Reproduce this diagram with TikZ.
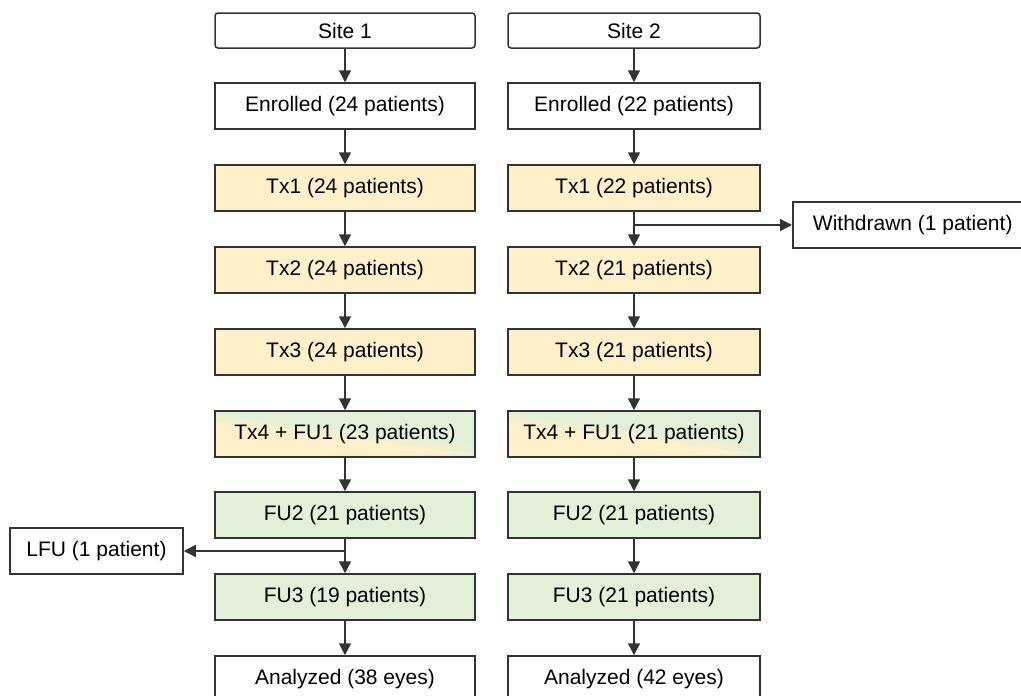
\documentclass[tikz,border=0pt]{standalone}
\usepackage{fontspec}
\setmainfont{Liberation Sans}
\usetikzlibrary{arrows.meta}
\definecolor{txy}{HTML}{FEF0C9}
\definecolor{fug}{HTML}{E2EFD9}
\definecolor{mixc}{HTML}{F0F0D1}
\definecolor{ln}{HTML}{333333}
\begin{document}
\begin{tikzpicture}[x=1pt,y=-1pt,
 box/.style={draw=ln, line width=1.5pt, fill=white, minimum height=46pt, inner sep=0pt,
   font=\fontsize{21}{25}\selectfont, text=black},
 lcol/.style={box, minimum width=260pt},
 rcol/.style={box, minimum width=252pt},
 site/.style={rounded corners=3pt, minimum height=35pt},
 tx/.style={fill=txy},
 fu/.style={fill=fug},
 mix/.style={fill=fug, path picture={
   \fill[mixc] ([yshift=-4pt]path picture bounding box.north west) -- ([yshift=9pt]path picture bounding box.south east) -- (path picture bounding box.south west) -- cycle;
   \fill[txy] ([yshift=-10pt]path picture bounding box.north west) -- ([yshift=3pt]path picture bounding box.south east) -- (path picture bounding box.south west) -- cycle;}},
 arr/.style={draw=ln, line width=1.5pt, -{Triangle[length=12pt,width=12pt]}}]
\useasboundingbox (0,0) rectangle (1021,696);
% left column
\node[lcol,site] (s1) at (345,30.5) {Site 1};
\node[lcol] (e1) at (345,106) {Enrolled (24 patients)};
\node[lcol,tx] (t11) at (345,188) {Tx1 (24 patients)};
\node[lcol,tx] (t12) at (345,270) {Tx2 (24 patients)};
\node[lcol,tx] (t13) at (345,352) {Tx3 (24 patients)};
\node[lcol,mix] (t14) at (345,434) {Tx4 + FU1 (23 patients)};
\node[lcol,fu] (f12) at (345,515) {FU2 (21 patients)};
\node[lcol,fu] (f13) at (345,597) {FU3 (19 patients)};
\node[lcol] (a1) at (345,679) {Analyzed (38 eyes)};
% right column
\node[rcol,site] (s2) at (634,30.5) {Site 2};
\node[rcol] (e2) at (634,106) {Enrolled (22 patients)};
\node[rcol,tx] (t21) at (634,188) {Tx1 (22 patients)};
\node[rcol,tx] (t22) at (634,270) {Tx2 (21 patients)};
\node[rcol,tx] (t23) at (634,352) {Tx3 (21 patients)};
\node[rcol,mix] (t24) at (634,434) {Tx4 + FU1 (21 patients)};
\node[rcol,fu] (f22) at (634,515) {FU2 (21 patients)};
\node[rcol,fu] (f23) at (634,597) {FU3 (21 patients)};
\node[rcol] (a2) at (634,679) {Analyzed (42 eyes)};
% side boxes
\node[box, minimum width=240pt, anchor=west] (wd) at (792,225) {Withdrawn (1 patient)};
\node[box, minimum width=173pt] (lfu) at (96.5,551) {LFU (1 patient)};
% connectors left
\draw[arr] (s1.south) -- (e1.north);
\draw[arr] (e1.south) -- (t11.north);
\draw[arr] (t11.south) -- (t12.north);
\draw[arr] (t12.south) -- (t13.north);
\draw[arr] (t13.south) -- (t14.north);
\draw[arr] (t14.south) -- (f12.north);
\draw[arr] (f12.south) -- (f13.north);
\draw[arr] (f13.south) -- (a1.north);
% connectors right
\draw[arr] (s2.south) -- (e2.north);
\draw[arr] (e2.south) -- (t21.north);
\draw[arr] (t21.south) -- (t22.north);
\draw[arr] (t22.south) -- (t23.north);
\draw[arr] (t23.south) -- (t24.north);
\draw[arr] (t24.south) -- (f22.north);
\draw[arr] (f22.south) -- (f23.north);
\draw[arr] (f23.south) -- (a2.north);
% side connectors
\coordinate (wj) at (634,225);
\coordinate (lj) at (345,551);
\draw[arr] (wj) -- (wd.west);
\draw[arr] (lj) -- (lfu.east);
\end{tikzpicture}
\end{document}
